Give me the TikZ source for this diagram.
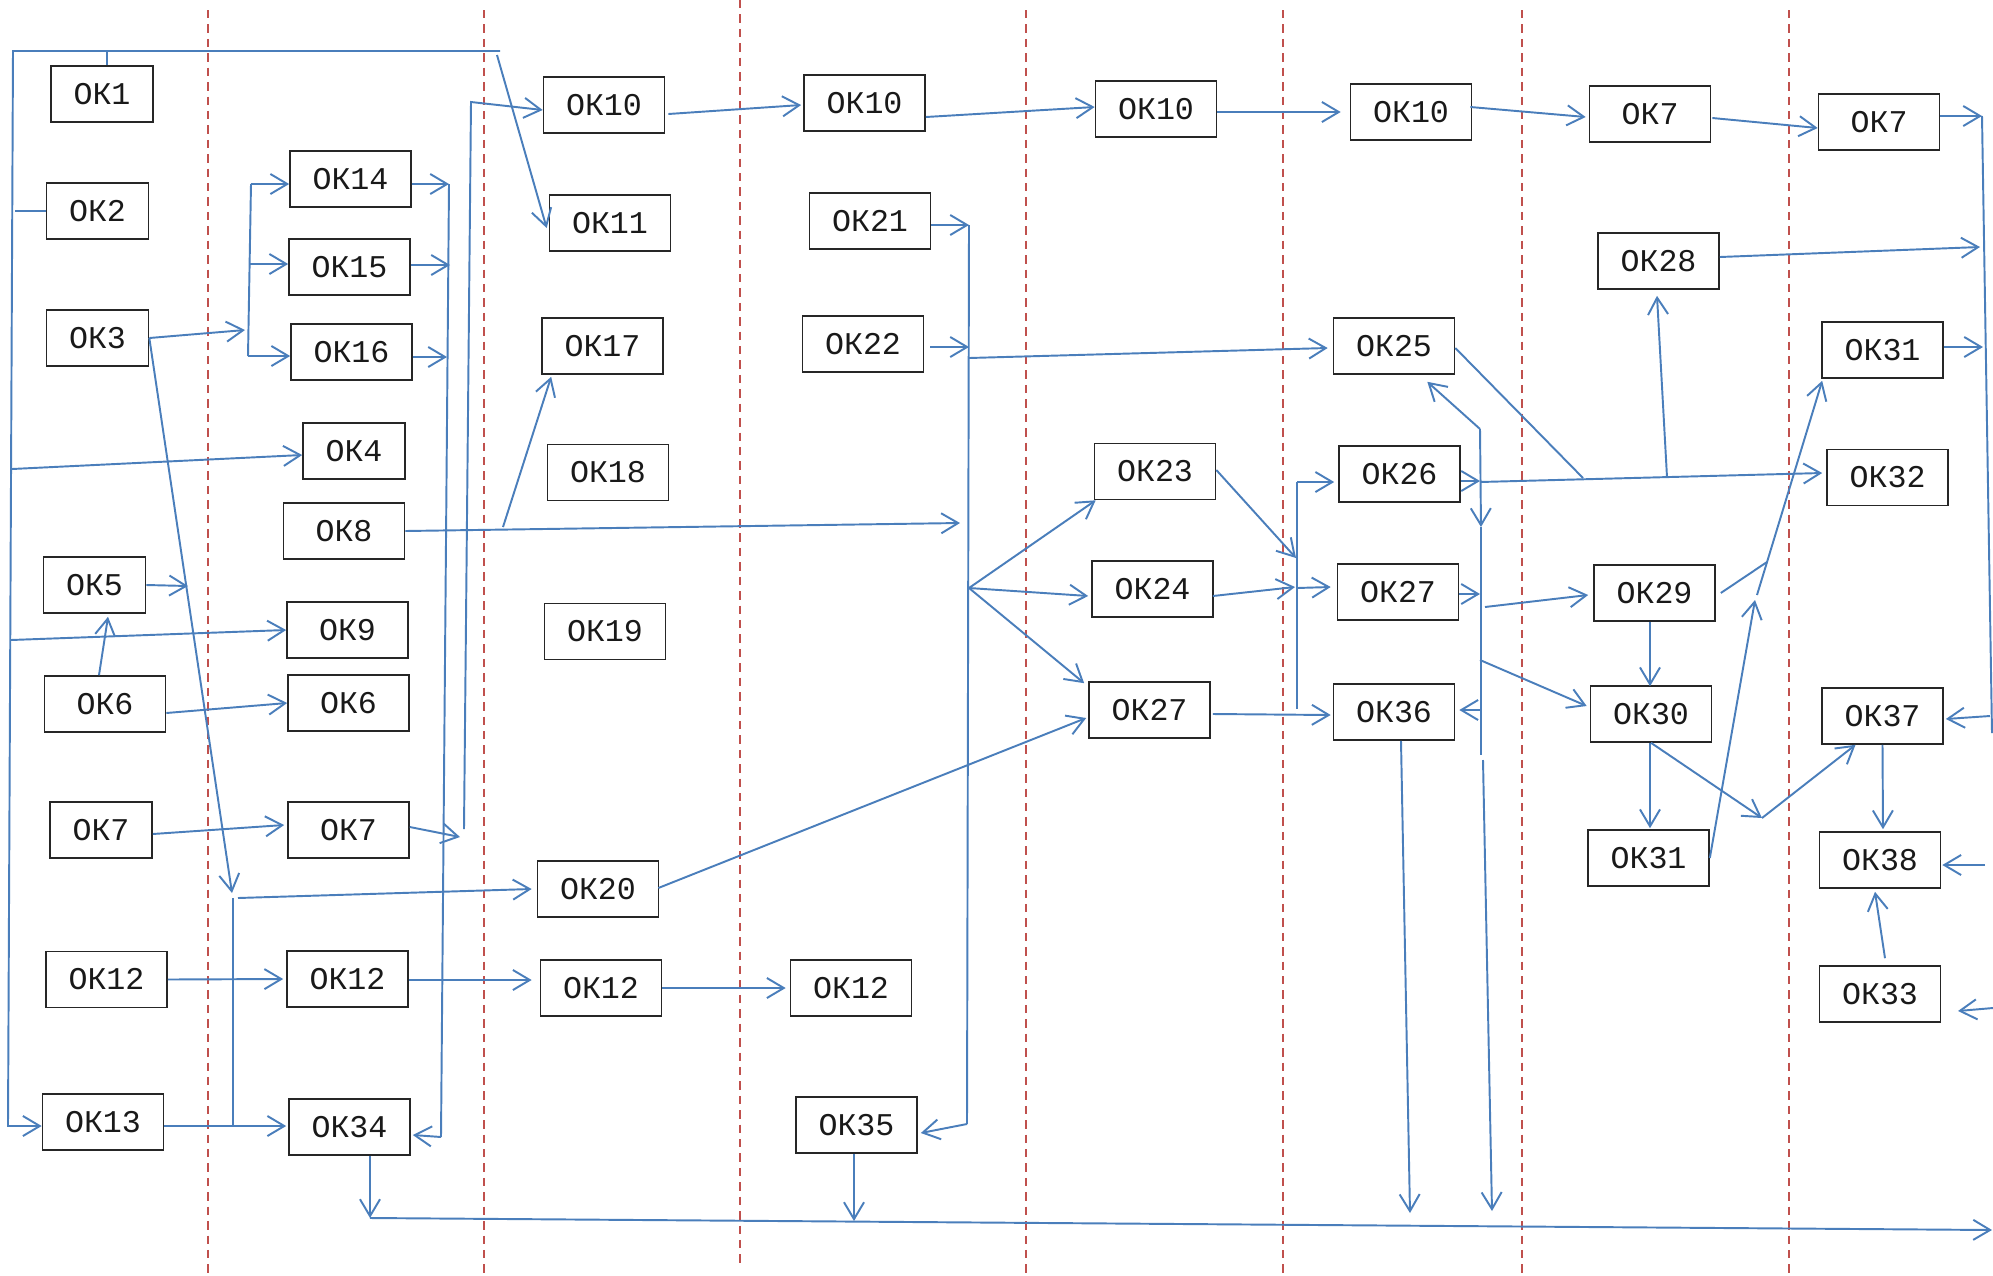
\documentclass[tikz,border=0pt]{standalone}
\usepackage{fontspec}
\newfontfamily\okfont{Liberation Mono}
\usetikzlibrary{arrows.meta}
\definecolor{lblue}{HTML}{4A7EBB}
\definecolor{sepred}{HTML}{C0504D}
\newcommand{\tsp}{\hspace{0.24cm}}
\begin{document}
\begin{tikzpicture}[x=0.01cm,y=-0.01cm,
 bx/.style={draw=black!85, line width=0.45pt, minimum height=0.56cm, inner sep=0pt, text=black!90, font={\okfont\fontsize{9pt}{10pt}\selectfont}},
 nb/.style={bx, minimum width=1.02cm},
 wb/.style={bx, minimum width=1.21cm},
 ln/.style={draw=lblue, line width=0.55pt},
 ar/.style={ln, -{Straight Barb[length=4.8pt,width=5.7pt]}},
 sep/.style={draw=sepred, line width=0.6pt, dash pattern=on 2.4pt off 1.7pt}]
\useasboundingbox (0,0) rectangle (1993,1275);
% separators
\foreach \x in {208,484,1026,1283,1522,1789} \draw[sep] (\x,10) -- (\x,1275);
\draw[sep] (740,0) -- (740,1263);
% column 1
\node[nb] (o1) at (102,94) {ОК1};
\node[nb] (o2) at (97.5,211) {ОК2};
\node[nb] (o3) at (97.5,338) {ОК3};
\node[nb] (o5) at (94.5,585) {ОК5};
\node[wb] (o6a) at (105,704) {ОК6\tsp};
\node[nb] (o7a) at (101,830) {ОК7};
\node[wb] (o12a) at (106.5,979.5) {ОК12};
\node[wb] (o13) at (103,1122) {ОК13};
% column 2
\node[wb] (o14) at (350.5,179) {ОК14};
\node[wb] (o15) at (349.5,267) {ОК15};
\node[wb] (o16) at (351.5,352) {ОК16};
\node[nb] (o4) at (354,451) {ОК4};
\node[wb] (o8) at (344,531) {ОК8\tsp};
\node[wb] (o9) at (347.5,630) {ОК9\tsp};
\node[wb] (o6b) at (348.5,703) {ОК6\tsp};
\node[wb] (o7b) at (348.5,830) {ОК7\tsp};
\node[wb] (o12b) at (347.5,979) {ОК12};
\node[wb] (o34) at (349.5,1127) {ОК34};
% column 3
\node[wb] (o10a) at (604,105) {ОК10};
\node[wb] (o11) at (610,223) {ОК11};
\node[wb] (o17) at (602.5,346) {ОК17};
\node[wb] (o18) at (608,472.5) {ОК18};
\node[wb] (o19) at (605,631.5) {ОК19};
\node[wb] (o20) at (598,889) {ОК20};
\node[wb] (o12c) at (601,988) {ОК12};
% column 4
\node[wb] (o10b) at (864.5,103) {ОК10};
\node[wb] (o21) at (870,221) {ОК21};
\node[wb] (o22) at (863,344) {ОК22};
\node[wb] (o12d) at (851,988) {ОК12};
\node[wb] (o35) at (856.5,1125) {ОК35};
% column 5
\node[wb] (o10c) at (1156,109) {ОК10};
\node[wb] (o23) at (1155,471.5) {ОК23};
\node[wb] (o24) at (1152.5,589) {ОК24};
\node[wb] (o27a) at (1149.5,710) {ОК27};
% column 6
\node[wb] (o10d) at (1411,112) {ОК10};
\node[wb] (o25) at (1394,346) {ОК25};
\node[wb] (o26) at (1399.5,474) {ОК26};
\node[wb] (o27b) at (1398,592) {ОК27};
\node[wb] (o36) at (1394,712) {ОК36};
% column 7
\node[wb] (o7c) at (1650,114) {ОК7\tsp};
\node[wb] (o28) at (1658.5,261) {ОК28};
\node[wb] (o29) at (1654.5,593) {ОК29};
\node[wb] (o30) at (1651,714) {ОК30};
\node[wb] (o31b) at (1648.5,858) {ОК31};
% column 8
\node[wb] (o7d) at (1879,122) {ОК7\tsp};
\node[wb] (o31a) at (1882.5,350) {ОК31};
\node[wb] (o32) at (1887.5,477.5) {ОК32};
\node[wb] (o37) at (1882.5,716) {ОК37};
\node[wb] (o38) at (1880,860) {ОК38};
\node[wb] (o33) at (1880,994) {ОК33};
% coordinates
\coordinate (tl) at (13,51);
\coordinate (tr) at (500,51);
\coordinate (bl) at (8,1126);
\coordinate (t1) at (107,51);
\coordinate (l2) at (15,211);
\coordinate (l4) at (12,469);
\coordinate (l9) at (11,640);
\coordinate (b3) at (245,330);
\coordinate (bT) at (251,184);
\coordinate (bM) at (250,264);
\coordinate (bB) at (248,356);
\coordinate (r14) at (449,184);
\coordinate (r15) at (450,265);
\coordinate (r16) at (447,357);
\coordinate (rB) at (441,1137);
\coordinate (d3) at (232,893);
\coordinate (v3T) at (233,898);
\coordinate (v3B) at (233,1126);
\coordinate (h20) at (238,898);
\coordinate (a5) at (188,586);
\coordinate (a7) at (460,837);
\coordinate (v7B) at (464,829);
\coordinate (v7T) at (471,102);
\coordinate (a8) at (960,523);
\coordinate (bb1) at (370,1218);
\coordinate (bb2) at (1992,1230);
\coordinate (d11) at (497,55);
\coordinate (d17) at (503,527);
\coordinate (rv1) at (1982,116);
\coordinate (rv2) at (1992,733);
\coordinate (rv37) at (1990,716);
\coordinate (a28) at (1980,247);
\coordinate (a31) at (1983,347);
\coordinate (v21) at (969,225);
\coordinate (v22) at (969,347);
\coordinate (v35) at (967,1124);
\coordinate (v25) at (969,358);
\coordinate (fan) at (969,588);
\coordinate (b35) at (854,1221);
\coordinate (a23) at (1296,558);
\coordinate (a24) at (1295,587);
\coordinate (k1) at (1297,482);
\coordinate (k2) at (1297,709);
\coordinate (k27) at (1297,588);
\coordinate (j32) at (1583,478);
\coordinate (a26) at (1480,481);
\coordinate (h32) at (1480,482);
\coordinate (j28) at (1667,477);
\coordinate (w1) at (1480,429);
\coordinate (wm) at (1481,527);
\coordinate (w2) at (1481,755);
\coordinate (w3) at (1483,760);
\coordinate (w4) at (1492,1211);
\coordinate (a27) at (1480,594);
\coordinate (h29) at (1485,607);
\coordinate (h30) at (1480,660);
\coordinate (h36) at (1480,710);
\coordinate (a36) at (1410,1213);
\coordinate (m30) at (1762,818);
\coordinate (m31) at (1755,600);
\coordinate (m31u) at (1757,595);
\coordinate (m29) at (1767,562);
\coordinate (r38) at (1985,865);
\coordinate (r33) at (1993,1008);
\coordinate (a33) at (1958,1011);
% left frame
\draw[ar] (tr) -- (tl) -- (bl) -- ([shift={(0,4)}]o13.west);
\draw[ln] (t1) -- (t1 |- o1.north);
\draw[ln] (l2) -- (o2.west);
\draw[ar] (l4) -- ([shift={(0,4)}]o4.west);
\draw[ar] (l9) -- (o9.west);
% OK3 branch
\draw[ar] (o3.east) -- (b3);
\draw[ln] (bT) -- (bB);
\draw[ar] (bT) -- (bT -| o14.west);
\draw[ar] (bM) -- (bM -| o15.west);
\draw[ar] (bB) -- (bB -| o16.west);
\draw[ar] (r14 -| o14.east) -- (r14);
\draw[ar] (r15 -| o15.east) -- (r15);
\draw[ar] (r16 -| o16.east) -- (r16);
\draw[ln] (r14) -- (rB);
\draw[ar] (rB) -- ([shift={(2,8)}]o34.east);
\draw[ar] (o3.east) -- (d3);
\draw[ln] (v3T) -- (v3B);
\draw[ar] (h20) -- ([shift={(-5,0)}]o20.west);
% col1 -> col2
\draw[ar] (o5.east) -- (a5);
\draw[ar] ([shift={(-6,0)}]o6a.north) -- ([shift={(13.5,3)}]o5.south);
\draw[ar] ([shift={(0,9)}]o6a.east) -- (o6b.west);
\draw[ar] ([shift={(0,4)}]o7a.east) -- ([shift={(-3,-5)}]o7b.west);
\draw[ar] ([shift={(0,-3)}]o7b.east) -- (a7);
\draw[ar] (v7B) -- (v7T) -- ([shift={(0,5)}]o10a.west);
\draw[ar] (o8.east) -- (a8);
\draw[ar] (o12a.east) -- ([shift={(-3,0)}]o12b.west);
\draw[ar] ([shift={(0,4)}]o13.east) -- ([shift={(-2,-1)}]o34.west);
\draw[ar] ([shift={(20.5,0)}]o34.south) -- (bb1);
\draw[ar] (bb1) -- (bb2);
\draw[ar] (d11) -- ([shift={(-2,5)}]o11.west);
\draw[ar] (d17) -- ([shift={(10,2)}]o17.south west);
% OK10 chain
\draw[ar] ([shift={(3,9)}]o10a.east) -- ([shift={(-2,2)}]o10b.west);
\draw[ar] ([shift={(0,14)}]o10b.east) -- ([shift={(0,-2)}]o10c.west);
\draw[ar] ([shift={(0,3)}]o10c.east) -- ([shift={(-9,0)}]o10d.west);
\draw[ar] ([shift={(-2,-5)}]o10d.east) -- ([shift={(-3,3)}]o7c.west);
\draw[ar] ([shift={(1,4)}]o7c.east) -- ([shift={(0,6)}]o7d.west);
\draw[ar] ([shift={(0,-6)}]o7d.east) -- (rv1);
\draw[ln] (rv1) -- (rv2);
\draw[ar] (rv37) -- ([shift={(2,3)}]o37.east);
\draw[ar] ([shift={(0,-4)}]o28.east) -- (a28);
\draw[ar] ([shift={(0,-3)}]o31a.east) -- (a31);
% col4
\draw[ar] ([shift={(0,4)}]o21.east) -- (v21);
\draw[ar] ([shift={(6,3)}]o22.east) -- (v22);
\draw[ln] (v21) -- (v35);
\draw[ar] (v35) -- ([shift={(3,8)}]o35.east);
\draw[ar] (v25) -- ([shift={(-5,2)}]o25.west);
\draw[ar] (fan) -- ([shift={(2,0)}]o23.south west);
\draw[ar] (fan) -- ([shift={(-3,7)}]o24.west);
\draw[ar] (fan) -- ([shift={(-4,2)}]o27a.north west);
\draw[ar] ([shift={(-1,-1)}]o20.east) -- ([shift={(-2,8)}]o27a.west);
\draw[ar] ([shift={(0,1)}]o12b.east) -- ([shift={(-8,-8)}]o12c.west);
\draw[ar] (o12c.east) -- ([shift={(-4,0)}]o12d.west);
\draw[ar] ([shift={(-2.5,0)}]o35.south) -- (b35);
% col5 -> col6
\draw[ar] ([shift={(0,-1.5)}]o23.east) -- (a23);
\draw[ar] ([shift={(-1,7)}]o24.east) -- (a24);
\draw[ln] (k1) -- (k2);
\draw[ar] (k1) -- ([shift={(-4,0)}]k1 -| o26.west);
\draw[ar] (k27) -- ([shift={(-6,-5)}]o27b.west);
\draw[ar] ([shift={(2,4)}]o27a.east) -- ([shift={(-2,3)}]o36.west);
% col6 -> col7
\draw[ln] ([shift={(0,2)}]o25.east) -- (j32);
\draw[ar] ([shift={(0,7)}]o26.east) -- (a26);
\draw[ar] (h32) -- ([shift={(-4,-4.5)}]o32.west);
\draw[ar] (j28) -- ([shift={(-1.5,6)}]o28.south);
\draw[ar] (w1) -- ([shift={(-28,7)}]o25.south east);
\draw[ar] (w1) -- (wm);
\draw[ln] (wm) -- (w2);
\draw[ar] (w3) -- (w4);
\draw[ar] ([shift={(0,2)}]o27b.east) -- (a27);
\draw[ar] (h29) -- ([shift={(-5,2)}]o29.west);
\draw[ar] (h30) -- ([shift={(-3,-8)}]o30.west);
\draw[ar] (h36) -- ([shift={(4,-2)}]o36.east);
\draw[ar] ([shift={(7,0)}]o36.south) -- (a36);
% col7 / col8
\draw[ar] ([shift={(-4.5,0)}]o29.south) -- ([shift={(-1,1)}]o30.north);
\draw[ar] ([shift={(-1,0)}]o30.south) -- ([shift={(1.5,-1)}]o31b.north);
\draw[ar] (o30.south) -- (m30);
\draw[ar] (m30) -- ([shift={(-27,0)}]o37.south);
\draw[ar] (o31b.east) -- (m31);
\draw[ar] (m31u) -- ([shift={(1,2)}]o31a.south west);
\draw[ln] ([shift={(5,0)}]o29.east) -- (m29);
\draw[ar] (o37.south) -- ([shift={(3,-2)}]o38.north);
\draw[ar] (r38) -- ([shift={(1,5)}]o38.east);
\draw[ar] ([shift={(5,-7)}]o33.north) -- ([shift={(-5,3)}]o38.south);
\draw[ar] (r33) -- (a33);
\end{tikzpicture}
\end{document}
